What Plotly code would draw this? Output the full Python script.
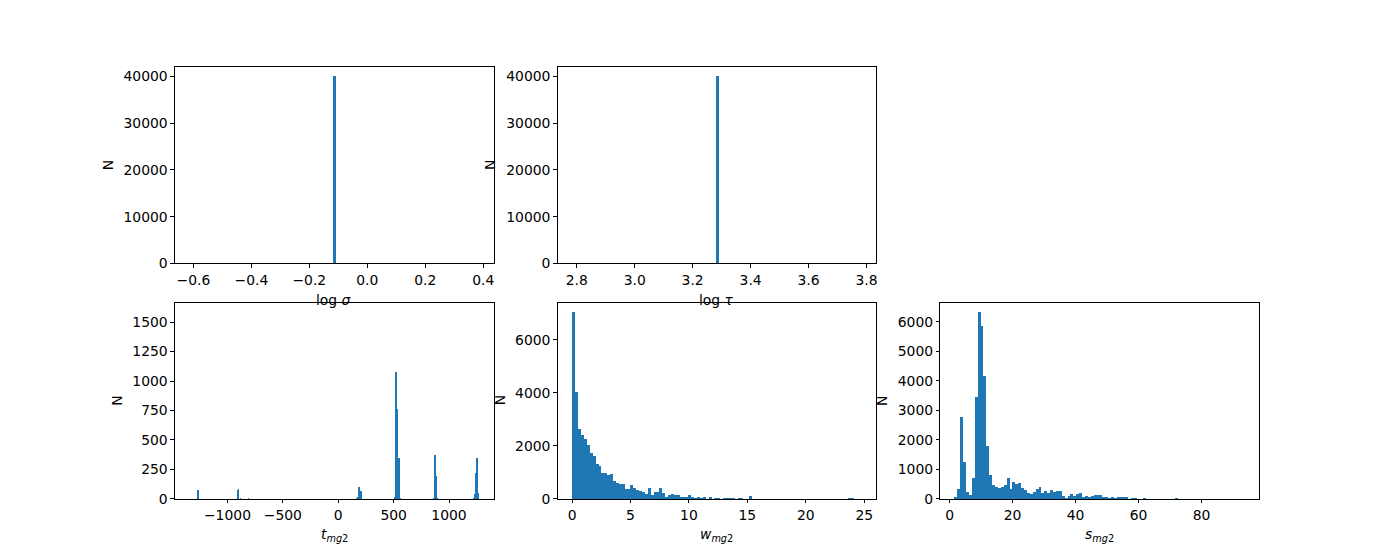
import numpy as np
import plotly.graph_objects as go

# ---------------- data ----------------
sigma_centers = [-0.114]
sigma_counts = [40000]
sigma_width = 0.01

tau_centers = [3.284]
tau_counts = [40000]
tau_width = 0.01

t_left_edges = [-1270, -917, -908, -890, -817,
                165, 174, 183, 192, 201,
                508, 517, 526, 535, 544, 553,
                860, 869, 878, 887,
                1221, 1230, 1240, 1249, 1258]
t_counts = [78, 80, 88, 10, 10,
            8, 23, 108, 48, 74,
            23, 1084, 770, 116, 354, 8,
            8, 379, 201, 8,
            14, 48, 226, 354, 57]
t_bin = 9.0
t_data_min, t_data_max = -1344.0, 1272.0
t_ymax = 1666.0

w_start, w_width = 0.0, 0.248
w_counts = [7050, 4040, 2640, 2415, 2265, 2040, 1735, 1620, 1320, 1245,
            980, 980, 905, 945, 680, 605, 565, 565, 375, 375,
            530, 415, 340, 300, 265, 190, 415, 150, 265, 265,
            415, 225, 75, 150, 190, 150, 150, 75, 75, 75,
            165, 88, 20, 88, 38, 88, 0, 88, 0, 50,
            50, 0, 50, 50, 50, 50, 0, 50, 50, 0,
            0, 126, 0, 0, 0, 0, 0, 0, 0, 0,
            0, 0, 0, 0, 0, 0, 0, 0, 0, 0,
            0, 0, 0, 0, 0, 0, 0, 0, 0, 0,
            0, 0, 0, 0, 0, 50, 50, 0, 0, 1]

s_start, s_width = 1.65, 0.92
s_counts = [68, 338, 2780, 1255, 237, 135, 710, 3450, 6330, 5860,
            4160, 1795, 812, 474, 406, 372, 406, 474, 710, 338,
            575, 508, 541, 372, 305, 203, 169, 237, 338, 406,
            203, 271, 203, 305, 237, 271, 275, 101, 40, 105,
            175, 113, 180, 214, 79, 113, 79, 113, 147, 147,
            147, 79, 79, 45, 79, 45, 79, 79, 79, 79,
            11, 45, 45, 10, 10, 45, 5, 5, 5, 5,
            5, 5, 5, 5, 5, 5, 45, 0, 0, 0,
            0, 0, 0, 0, 0, 0, 0, 0, 0, 0,
            0, 0, 0, 0, 0, 0, 0, 0, 0, 1]

xlabels = ["log <i>σ</i>", "log <i>τ</i>",
           "<i>t</i><sub><i>mg</i>2</sub>",
           "<i>w</i><sub><i>mg</i>2</sub>",
           "<i>s</i><sub><i>mg</i>2</sub>"]

# ---------------- figure ----------------
W, H = 1400, 560          # design (reference) size
H_RENDER = 569            # rendered height (capture is rescaled to 560)
BLUE = "#1f77b4"
FONT = "DejaVu Sans"
FS = 13.9

def px_x(p):
    return p / W

def px_y(p):
    return 1 - p / H

xdom = [[px_x(175), px_x(494)], [px_x(558), px_x(877)], [px_x(941), px_x(1260)]]
ydom_top = [px_y(263), px_y(67)]
ydom_bot = [px_y(498), px_y(302)]

fig = go.Figure()

def add_hist(idx, centers, counts, width):
    fig.add_trace(go.Bar(x=centers, y=counts, width=width,
                         marker=dict(color=BLUE, line=dict(width=0)),
                         xaxis="x" + ("" if idx == 1 else str(idx)),
                         yaxis="y" + ("" if idx == 1 else str(idx)),
                         showlegend=False, hoverinfo="x+y"))

add_hist(1, sigma_centers, sigma_counts, sigma_width)
add_hist(2, tau_centers, tau_counts, tau_width)
t_centers = [e + t_bin / 2 for e in t_left_edges]
# bins are ~1 px wide on screen; draw them slightly narrower so each stays in one pixel column
add_hist(3, t_centers, t_counts, t_bin * 0.5)
w_centers = (w_start + (np.arange(len(w_counts)) + 0.5) * w_width).tolist()
add_hist(4, w_centers, w_counts, w_width)
s_centers = (s_start + (np.arange(len(s_counts)) + 0.5) * s_width).tolist()
add_hist(5, s_centers, s_counts, s_width)

def margin_range(lo, hi):
    span = hi - lo
    return [lo - 0.05 * span, hi + 0.05 * span]

v = sigma_centers[0]
r1 = [v - 0.55, v + 0.55]
v2 = tau_centers[0]
r2 = [v2 - 0.55, v2 + 0.55]
r3 = margin_range(t_data_min, t_data_max)
r4 = margin_range(w_start, w_start + w_width * len(w_counts))
r5 = margin_range(s_start, s_start + s_width * len(s_counts))

axis_common = dict(showline=True, mirror=True, linecolor="black", linewidth=0.8,
                   ticks="outside", ticklen=3.5, tickwidth=0.8, tickcolor="black",
                   showgrid=False, zeroline=False,
                   tickfont=dict(family=FONT, size=FS, color="black"))

layout = dict(width=W, height=H_RENDER, autosize=False,
              margin=dict(l=0, r=0, t=0, b=0),
              paper_bgcolor="white", plot_bgcolor="white",
              bargap=0, barmode="overlay",
              font=dict(family=FONT, size=FS, color="black"))

specs = [
    (1, xdom[0], ydom_top, r1, dict(tick0=0, dtick=0.2, tickformat=".1f"),
     [0, 42000], dict(tick0=0, dtick=10000, tickformat="d")),
    (2, xdom[1], ydom_top, r2, dict(tick0=0, dtick=0.2, tickformat=".1f"),
     [0, 42000], dict(tick0=0, dtick=10000, tickformat="d")),
    (3, xdom[0], ydom_bot, r3, dict(tick0=0, dtick=500, tickformat="d"),
     [0, t_ymax], dict(tick0=0, dtick=250, tickformat="d")),
    (4, xdom[1], ydom_bot, r4, dict(tick0=0, dtick=5, tickformat="d"),
     [0, 1.05 * max(w_counts)], dict(tick0=0, dtick=2000, tickformat="d")),
    (5, xdom[2], ydom_bot, r5, dict(tick0=0, dtick=20, tickformat="d"),
     [0, 1.05 * max(s_counts)], dict(tick0=0, dtick=1000, tickformat="d")),
]

for idx, xd, yd, xr, xt, yr, yt in specs:
    sx = "" if idx == 1 else str(idx)
    layout["xaxis" + sx] = dict(domain=xd, range=xr, anchor="y" + sx,
                                tickmode="linear", **xt, **axis_common)
    layout["yaxis" + sx] = dict(domain=yd, range=yr, anchor="x" + sx,
                                tickmode="linear", **yt, **axis_common)

fig.update_layout(**layout)

# axis labels as annotations
xlab_pos = [((175 + 494) / 2, 299), ((558 + 877) / 2, 299),
            ((175 + 494) / 2, 534), ((558 + 877) / 2, 534),
            ((941 + 1260) / 2, 534)]
for (xp, yp), txt in zip(xlab_pos, xlabels):
    fig.add_annotation(x=px_x(xp), y=px_y(yp), xref="paper", yref="paper",
                       text=txt, showarrow=False, xanchor="center", yanchor="middle",
                       font=dict(family=FONT, size=FS, color="black"))

ylab_pos = [(108, 165), (491, 165), (117, 400), (500, 400), (882, 400)]
for xp, yp in ylab_pos:
    fig.add_annotation(x=px_x(xp), y=px_y(yp), xref="paper", yref="paper",
                       text="N", showarrow=False, textangle=-90,
                       xanchor="center", yanchor="middle",
                       font=dict(family=FONT, size=FS, color="black"))

post = (
    "var h=document.documentElement,b=document.body;"
    "h.style.margin='0';h.style.padding='0';h.style.overflow='hidden';"
    "b.style.margin='0';b.style.padding='0';b.style.overflow='hidden';"
)
fig.write_html("out.html", config={"displayModeBar": False}, post_script=post)
